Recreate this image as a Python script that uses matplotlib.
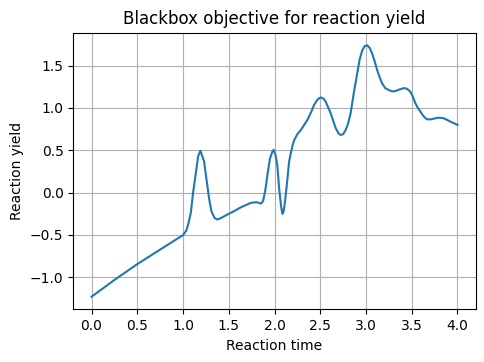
import matplotlib
matplotlib.use("Agg")
import matplotlib.pyplot as plt

reaction_time = [
    0.0, 0.246, 0.497, 0.747, 0.908, 1.0, 1.035, 1.06, 1.085, 1.11, 1.135, 1.165, 1.19,
    1.23, 1.26, 1.285, 1.31, 1.345, 1.375, 1.416, 1.452, 1.5, 1.543, 1.634, 1.743, 1.804,
    1.852, 1.875, 1.9, 1.924, 1.95, 1.975, 1.99, 2.01, 2.03, 2.052, 2.074, 2.087, 2.1,
    2.115, 2.131, 2.16, 2.179, 2.2, 2.215, 2.25, 2.288, 2.324, 2.36, 2.4, 2.432, 2.47,
    2.505, 2.535, 2.56, 2.614, 2.669, 2.70, 2.723, 2.75, 2.778, 2.805, 2.832, 2.87,
    2.904, 2.93, 2.959, 2.985, 3.013, 3.04, 3.068, 3.095, 3.122, 3.15, 3.176, 3.21,
    3.25, 3.29, 3.322, 3.37, 3.42, 3.45, 3.486, 3.513, 3.54, 3.567, 3.595, 3.63, 3.667,
    3.71, 3.758, 3.80, 3.849, 3.885, 3.922, 3.96, 4.0,
]
reaction_yield = [
    -1.23, -1.035, -0.847, -0.675, -0.565, -0.502, -0.45, -0.36, -0.24, 0.0, 0.19, 0.43,
    0.494, 0.37, 0.13, -0.07, -0.22, -0.30, -0.318, -0.30, -0.279, -0.25, -0.228, -0.173,
    -0.12, -0.114, -0.13, -0.10, 0.03, 0.22, 0.40, 0.48, 0.506, 0.45, 0.33, 0.03, -0.18,
    -0.25, -0.22, -0.10, 0.054, 0.37, 0.47, 0.57, 0.62, 0.69, 0.74, 0.80, 0.86, 0.95,
    1.035, 1.10, 1.125, 1.11, 1.074, 0.937, 0.76, 0.70, 0.68, 0.69, 0.74, 0.82, 0.937,
    1.2, 1.407, 1.57, 1.68, 1.73, 1.74, 1.71, 1.64, 1.55, 1.447, 1.36, 1.29, 1.235,
    1.21, 1.195, 1.20, 1.22, 1.235, 1.225, 1.19, 1.13, 1.054, 1.0, 0.956, 0.90, 0.866,
    0.865, 0.878, 0.885, 0.878, 0.86, 0.839, 0.82, 0.80,
]

fig = plt.figure(figsize=(4.85, 3.62), dpi=100)
ax = fig.add_axes([0.151, 0.1456, 0.83, 0.764])
ax.plot(reaction_time, reaction_yield, color="#1f77b4", lw=1.5)
ax.grid(True)
ax.set_title("Blackbox objective for reaction yield")
ax.set_xlabel("Reaction time")
ax.set_ylabel("Reaction yield")
fig.savefig("out.png", dpi=100)
